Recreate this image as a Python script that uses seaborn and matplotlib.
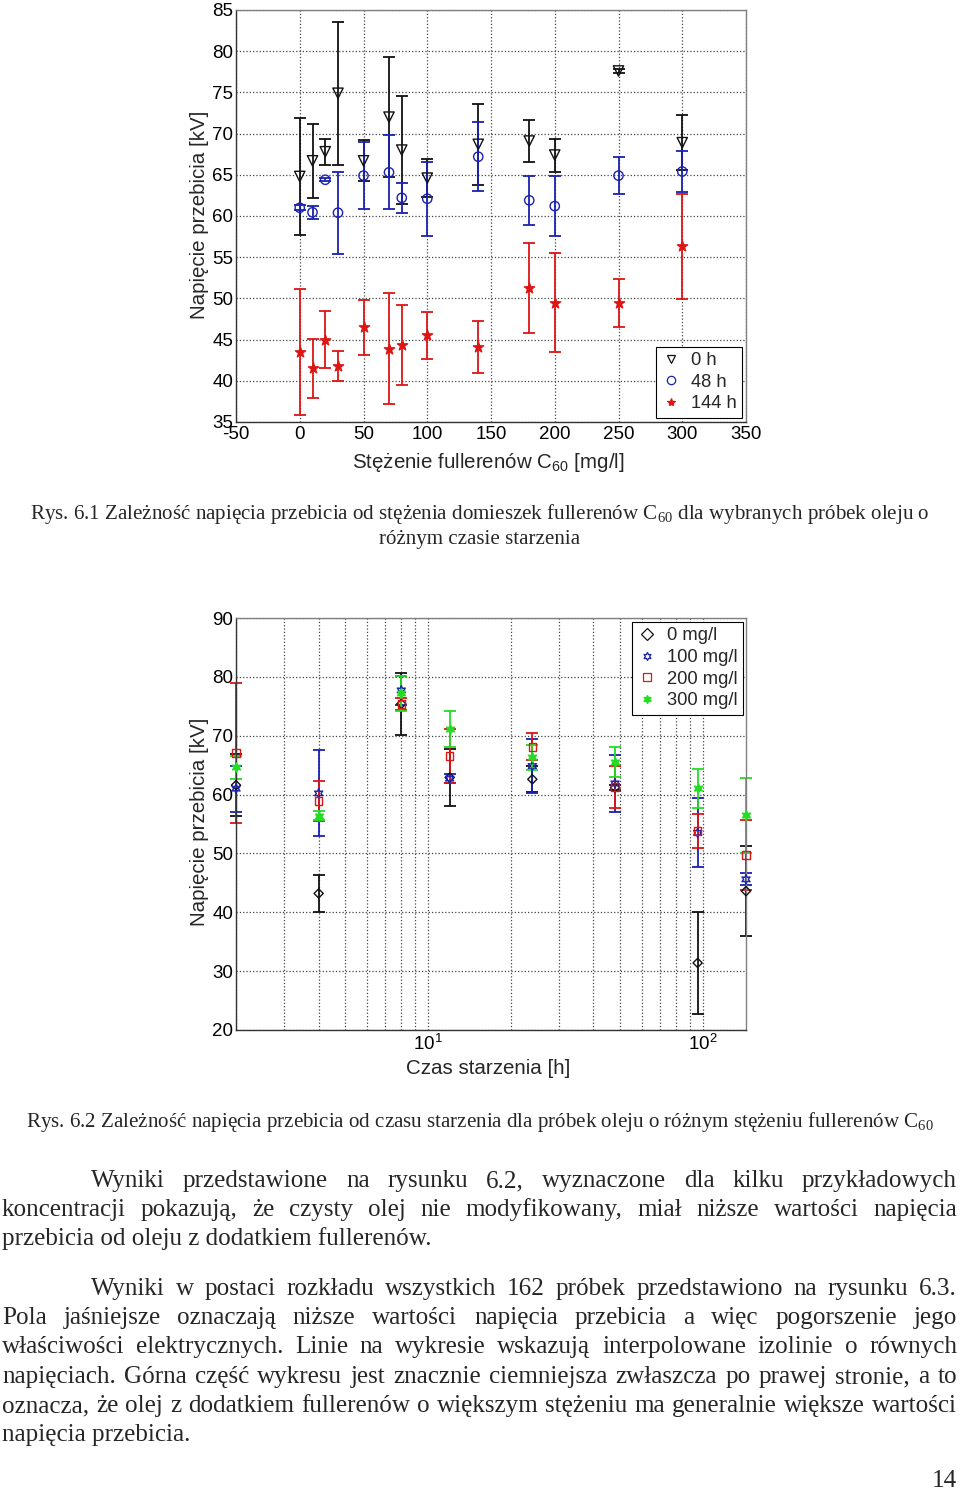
import numpy as np
import pandas as pd
import matplotlib
matplotlib.use("Agg")
import matplotlib.pyplot as plt
from matplotlib.lines import Line2D
import seaborn as sns

# ---------------- data: chart 1 ----------------
conc = [0, 10, 20, 30, 50, 70, 80, 100, 140, 180, 200, 250, 300]
v_0h = [64.8, 66.7, 67.8, 74.9, 66.7, 72.0, 68.0, 64.6, 68.7, 69.1, 67.4, 77.6, 68.9]
e_0h = [7.1, 4.5, 1.6, 8.7, 2.5, 7.3, 6.6, 2.3, 4.9, 2.6, 2.0, 0.3, 3.3]
v_48h = [61.0, 60.45, 64.4, 60.4, 64.9, 65.3, 62.2, 62.1, 67.2, 61.9, 61.2, 64.9, 65.4]
e_48h = [0.3, 0.8, 0.2, 5.0, 4.1, 4.5, 1.8, 4.5, 4.2, 3.0, 3.6, 2.2, 2.5]
v_144h = [43.5, 41.5, 45.0, 41.8, 46.5, 43.9, 44.4, 45.5, 44.1, 51.3, 49.5, 49.4, 56.3]
e_144h = [7.7, 3.6, 3.5, 1.85, 3.35, 6.75, 4.85, 2.8, 3.1, 5.45, 5.95, 2.9, 6.35]
labels1 = ["0 h", "48 h", "144 h"]

# ---------------- data: chart 2 ----------------
hours = [2, 4, 8, 12, 24, 48, 96, 144]
v_0 = [61.6, 43.2, 75.4, 62.9, 62.6, 61.2, 31.4, 43.6]
e_0 = [5.3, 3.1, 5.3, 4.8, 2.2, 0.5, 8.6, 7.7]
v_100 = [61.0, 60.2, 77.7, 62.7, 64.85, 61.9, 53.5, 45.6]
e_100 = [3.9, 7.3, 2.5, 0.8, 4.65, 4.9, 5.85, 1.0]
v_200 = [67.1, 58.9, 75.4, 66.6, 68.1, 61.3, 53.8, 49.7]
e_200 = [11.9, 3.4, 1.0, 4.6, 2.3, 3.6, 2.9, 5.9]
v_300 = [64.6, 56.4, 77.2, 71.1, 66.3, 65.5, 61.1, 56.5]
e_300 = [2.0, 0.8, 3.0, 3.1, 2.2, 2.5, 3.3, 6.4]
labels2 = ["0 mg/l", "100 mg/l", "200 mg/l", "300 mg/l"]

df1 = pd.DataFrame({
    "x": conc * 3,
    "v": v_0h + v_48h + v_144h,
    "e": e_0h + e_48h + e_144h,
    "s": [labels1[0]] * 13 + [labels1[1]] * 13 + [labels1[2]] * 13,
})
df2 = pd.DataFrame({
    "x": hours * 4,
    "v": v_0 + v_100 + v_200 + v_300,
    "e": e_0 + e_100 + e_200 + e_300,
    "s": sum([[l] * len(hours) for l in labels2], []),
})

# ---------------- style ----------------
sns.set_theme(style="white")
plt.rcParams["font.family"] = ["Liberation Sans", "DejaVu Sans"]
plt.rcParams["axes.unicode_minus"] = False

W, H = 960, 1491
fig = plt.figure(figsize=(W / 100, H / 100), dpi=100)
fig.patch.set_facecolor("white")

BLACK = "#111111"
BLUE = "#1a22b0"
RED = "#dd1515"
GREEN = "#22dd22"
hexagram = (6, 1, 0)
TICK_FS = 13.5
LAB_FS = 14.8

def style_axes(ax):
    ax.set_facecolor("white")
    for sp in ["left", "bottom"]:
        ax.spines[sp].set_color("#333333")
        ax.spines[sp].set_linewidth(1.0)
    for sp in ["top", "right"]:
        ax.spines[sp].set_color("#808080")
        ax.spines[sp].set_linewidth(1.0)
    ax.tick_params(axis="both", which="both", direction="in", length=4,
                   color="#333333", labelsize=TICK_FS, labelcolor="black", pad=2,
                   top=False, right=False)
    ax.tick_params(axis="x", which="both", pad=3)

def draw_series(ax, d, color, marker, size, filled):
    ax.errorbar(d["x"], d["v"], yerr=d["e"], fmt="none", ecolor=color,
                elinewidth=1.3, capsize=4, capthick=1.3, zorder=2, clip_on=False)
    sns.scatterplot(data=d, x="x", y="v", marker=marker, s=size, color=color,
                    ax=ax, legend=False, zorder=3, clip_on=False)
    coll = ax.collections[-1]
    if filled:
        coll.set_facecolor(color)
    else:
        coll.set_facecolor("none")
    coll.set_edgecolor(color)
    coll.set_linewidth(1.0)

# ---------------- chart 1 ----------------
ax1 = fig.add_axes([236 / W, 1 - 422 / H, 510 / W, 412 / H])
style_axes(ax1)
spec1 = [(labels1[0], BLACK, "v", 55, False),
         (labels1[1], BLUE, "o", 45, False),
         (labels1[2], RED, "*", 60, True)]
for lab, c, m, s, f in spec1:
    draw_series(ax1, df1[df1["s"] == lab], c, m, s, f)
ax1.set_xlim(-50, 350)
ax1.set_ylim(35, 85)
ax1.set_xticks(np.arange(-50, 351, 50))
ax1.set_yticks(np.arange(35, 86, 5))
ax1.grid(True, linestyle=":", color="#444444", linewidth=0.9)
ax1.set_axisbelow(True)
ax1.set_xlabel(r"Stężenie fullerenów C$_{\mathregular{60}}$ [mg/l]", fontsize=LAB_FS)
ax1.set_ylabel("Napięcie przebicia [kV]", fontsize=LAB_FS)
ax1.xaxis.set_label_coords(0.494, -0.070)
ax1.yaxis.set_label_coords(-0.053, 0.502)
h1 = [Line2D([], [], linestyle="none", marker=m, color=c, markersize=6,
             markerfacecolor=(c if f else "none"), markeredgewidth=0.9)
      for lab, c, m, s, f in spec1]
leg1 = ax1.legend(h1, labels1, loc="lower right",
                  bbox_to_anchor=(742 / W, 1 - 418 / H), bbox_transform=fig.transFigure,
                  borderaxespad=0, fancybox=False, framealpha=1, edgecolor="black",
                  fontsize=13.2, handlelength=1.0, handletextpad=0.6, labelspacing=0.25,
                  borderpad=0.3)
leg1.get_frame().set_linewidth(0.8)

# ---------------- chart 2 ----------------
ax2 = fig.add_axes([236 / W, 1 - 1030 / H, 510 / W, 412 / H])
style_axes(ax2)
spec2 = [(labels2[0], BLACK, "D", 22, False),
         (labels2[1], BLUE, hexagram, 45, False),
         (labels2[2], RED, "s", 30, False),
         (labels2[3], GREEN, hexagram, 45, True)]
for lab, c, m, s, f in spec2:
    draw_series(ax2, df2[df2["s"] == lab], c, m, s, f)
ax2.set_xscale("log")
ax2.set_xlim(2, 144)
ax2.set_ylim(20, 90)
ax2.set_yticks(np.arange(20, 91, 10))
ax2.set_xticks([10, 100])
ax2.xaxis.set_minor_formatter(matplotlib.ticker.NullFormatter())
ax2.grid(True, which="both", axis="x", linestyle=":", color="#444444", linewidth=0.9)
ax2.grid(True, which="major", axis="y", linestyle=":", color="#444444", linewidth=0.9)
ax2.set_axisbelow(True)
ax2.set_xlabel("Czas starzenia [h]", fontsize=LAB_FS)
ax2.set_ylabel("Napięcie przebicia [kV]", fontsize=LAB_FS)
ax2.xaxis.set_label_coords(0.494, -0.070)
ax2.yaxis.set_label_coords(-0.053, 0.505)
h2 = [Line2D([], [], linestyle="none", marker=m, color=c, markersize=6,
             markerfacecolor=(c if f else "none"), markeredgewidth=0.9)
      for lab, c, m, s, f in spec2]
leg2 = ax2.legend(h2, labels2, loc="upper right",
                  bbox_to_anchor=(743 / W, 1 - 622 / H), bbox_transform=fig.transFigure,
                  borderaxespad=0, fancybox=False, framealpha=1, edgecolor="black",
                  fontsize=13.2, handlelength=1.0, handletextpad=0.6, labelspacing=0.25,
                  borderpad=0.3)
leg2.get_frame().set_linewidth(0.8)

# ---------------- page text ----------------
SERIF = ["Liberation Serif", "DejaVu Serif"]
renderer = fig.canvas.get_renderer()

def fx(x):
    return x / W

def fy(y):
    return 1 - y / H

def width_of(s, size):
    t = fig.text(0, 0, s, fontsize=size, family=SERIF)
    w = t.get_window_extent(renderer).width
    t.remove()
    return w

def fit_size(s, target, base=14.0):
    return base * target / width_of(s, base)

cap1a = r"Rys. 6.1 Zależność napięcia przebicia od stężenia domieszek fullerenów C$_{\mathregular{60}}$ dla wybranych próbek oleju o"
cap1b = "różnym czasie starzenia"
cap2 = r"Rys. 6.2 Zależność napięcia przebicia od czasu starzenia dla próbek oleju o różnym stężeniu fullerenów C$_{\mathregular{60}}$"
cs = fit_size(cap1a, 900)
fig.text(fx(480), fy(519), cap1a, fontsize=cs, family=SERIF, ha="center", va="baseline")
fig.text(fx(480), fy(544), cap1b, fontsize=cs, family=SERIF, ha="center", va="baseline")
fig.text(fx(480), fy(1127), cap2, fontsize=cs, family=SERIF, ha="center", va="baseline")

para1 = [
    ("Wyniki przedstawione na rysunku 6.2, wyznaczone dla kilku przykładowych", 91, True),
    ("koncentracji pokazują, że czysty olej nie modyfikowany, miał niższe wartości napięcia", 2, True),
    ("przebicia od oleju z dodatkiem fullerenów.", 2, False),
]
para2 = [
    ("Wyniki w postaci rozkładu wszystkich 162 próbek przedstawiono na rysunku 6.3.", 91, True),
    ("Pola jaśniejsze oznaczają niższe wartości napięcia przebicia a więc pogorszenie jego", 2, True),
    ("właściwości elektrycznych. Linie na wykresie wskazują interpolowane izolinie o równych", 2, True),
    ("napięciach. Górna część wykresu jest znacznie ciemniejsza zwłaszcza po prawej stronie, a to", 2, True),
    ("oznacza, że olej z dodatkiem fullerenów o większym stężeniu ma generalnie większe wartości", 2, True),
    ("napięcia przebicia.", 2, False),
]
ps = fit_size("przebicia od oleju z dodatkiem fullerenów.", 431)
RIGHT = 957

def put_line(s, x0, y, justify):
    if not justify:
        fig.text(fx(x0), fy(y), s, fontsize=ps, family=SERIF, ha="left", va="baseline")
        return
    words = s.split(" ")
    ws = [width_of(w, ps) for w in words]
    gap = (RIGHT - x0 - sum(ws)) / (len(words) - 1)
    x = x0
    for w, wd in zip(words, ws):
        fig.text(fx(x), fy(y), w, fontsize=ps, family=SERIF, ha="left", va="baseline")
        x += wd + gap

for (s, x0, j), y in zip(para1, [1187, 1216, 1245]):
    put_line(s, x0, y, j)
for (s, x0, j), y in zip(para2, [1295, 1324, 1353, 1383, 1412, 1441]):
    put_line(s, x0, y, j)

fig.text(fx(957), fy(1487), "14", fontsize=ps, family=SERIF, ha="right", va="baseline")

fig.savefig("out.png", dpi=100, facecolor="white")
